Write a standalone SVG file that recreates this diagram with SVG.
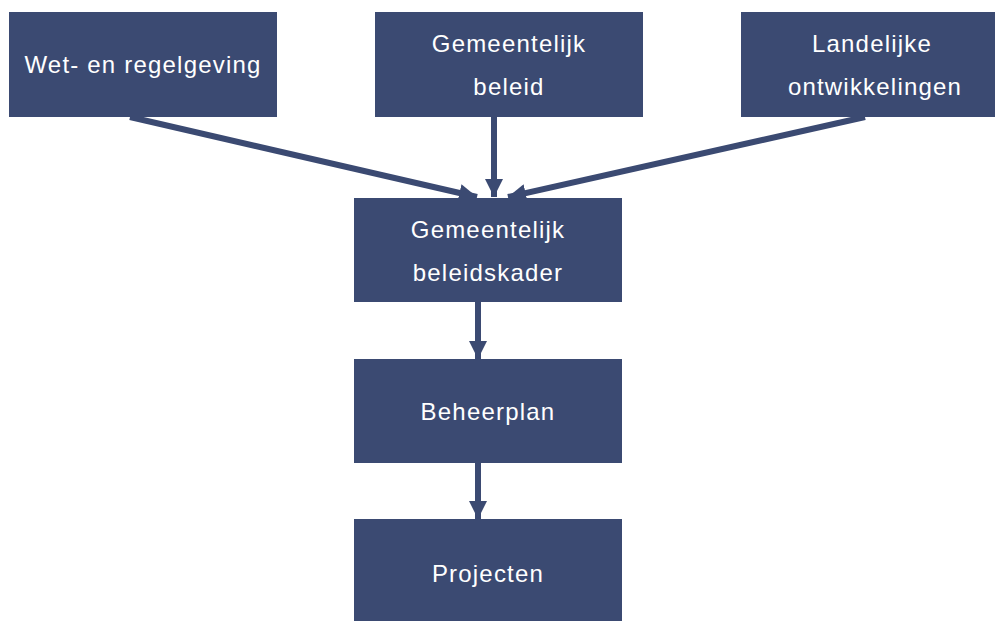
<svg xmlns="http://www.w3.org/2000/svg" width="995" height="621" viewBox="0 0 995 621">
<style>
.box{fill:#3b4a72;}
.t{font-family:"Liberation Sans",Arial,sans-serif;font-size:24px;fill:#ffffff;text-anchor:middle;letter-spacing:1.2px;}
.c{stroke:#3b4a72;stroke-width:6;fill:none;}
</style>
<defs>
<marker id="ah" viewBox="0 0 10 10" refX="10" refY="5" markerWidth="3" markerHeight="3" markerUnits="strokeWidth" orient="auto">
<path d="M0,0 L10,5 L0,10 z" fill="#3b4a72"/>
</marker>
</defs>
<rect width="995" height="621" fill="#ffffff"/>
<g id="connectors">
<line class="c" x1="130" y1="117" x2="477" y2="197" marker-end="url(#ah)"/>
<line class="c" x1="494" y1="117" x2="494" y2="197" marker-end="url(#ah)"/>
<line class="c" x1="865" y1="117" x2="508" y2="197" marker-end="url(#ah)"/>
<line class="c" x1="478" y1="302" x2="478" y2="359" marker-end="url(#ah)"/>
<line class="c" x1="478" y1="463" x2="478" y2="519" marker-end="url(#ah)"/>
</g>
<g id="n1"><rect class="box" x="9" y="12" width="268" height="105"/><text class="t" x="143" y="73">Wet- en regelgeving</text></g>
<g id="n2"><rect class="box" x="375" y="12" width="268" height="105"/><text class="t" x="509" y="52">Gemeentelijk</text><text class="t" x="509" y="95">beleid</text></g>
<g id="n3"><rect class="box" x="741" y="12" width="268" height="105"/><text class="t" x="872" y="52">Landelijke</text><text class="t" x="875" y="95">ontwikkelingen</text></g>
<g id="n4"><rect class="box" x="354" y="198" width="268" height="104"/><text class="t" x="488" y="238">Gemeentelijk</text><text class="t" x="488" y="281">beleidskader</text></g>
<g id="n5"><rect class="box" x="354" y="359" width="268" height="104"/><text class="t" x="488" y="420">Beheerplan</text></g>
<g id="n6"><rect class="box" x="354" y="519" width="268" height="102"/><text class="t" x="488" y="582">Projecten</text></g>
</svg>
